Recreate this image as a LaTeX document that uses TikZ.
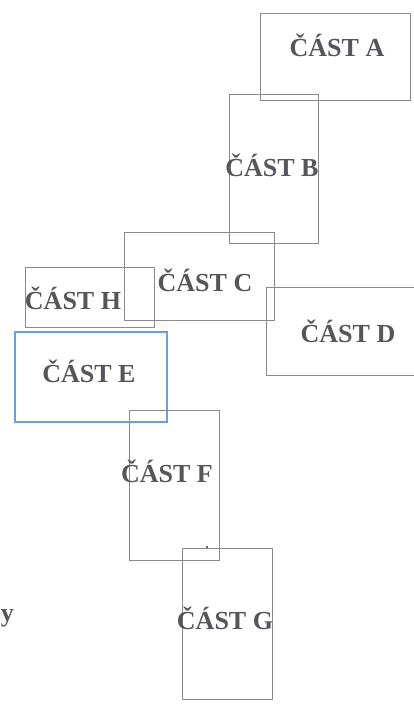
\documentclass[tikz,border=0pt]{standalone}
\usepackage{fontspec}
\setmainfont{Liberation Serif}
\begin{document}
\begin{tikzpicture}[x=1pt,y=-1pt,
  box/.style={draw=boxgray,line width=0.7pt},
  bluebox/.style={draw=boxblue,line width=1.3pt},
  lbl/.style={text=txtgray,font=\fontsize{26}{29}\selectfont\bfseries,inner sep=0pt,anchor=center}]
\definecolor{boxgray}{HTML}{8A8A8E}
\definecolor{boxblue}{HTML}{6A9FE0}
\definecolor{txtgray}{HTML}{55555B}
\useasboundingbox (0,0) rectangle (413,709);
\draw[box] (260,13) rectangle (410,100) coordinate (A);
\draw[box] (229,94) rectangle (318,243) coordinate (B);
\draw[box] (124,232) rectangle (274,320) coordinate (C);
\draw[box] (266,287) rectangle (414,375) coordinate (D);
\draw[box] (25,267) rectangle (154,327) coordinate (H);
\draw[bluebox] (15,332) rectangle (167,422) coordinate (E);
\draw[box] (129,410) rectangle (219,560) coordinate (F);
\draw[box] (182,548) rectangle (272,699) coordinate (G);
\fill[black!80] (207,547) circle (1.2) coordinate (dot);
\node[lbl] (tA) at (337,45) {ČÁST A};
\node[lbl] (tB) at (272,165) {ČÁST B};
\node[lbl] (tC) at (205,280) {ČÁST C};
\node[lbl] (tH) at (73,298) {ČÁST H};
\node[lbl] (tD) at (348,331) {ČÁST D};
\node[lbl] (tE) at (89,371) {ČÁST E};
\node[lbl] (tF) at (167,471) {ČÁST F};
\node[lbl] (tG) at (225,618) {ČÁST G};
\node[lbl,anchor=east] (ty) at (14,618) {y};
\end{tikzpicture}
\end{document}
